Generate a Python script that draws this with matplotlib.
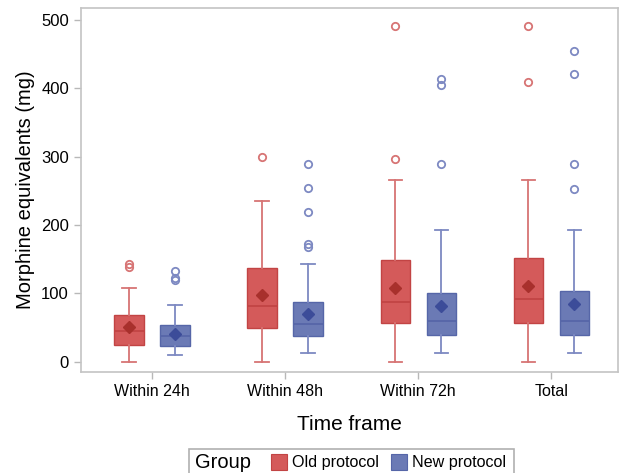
import matplotlib
matplotlib.use("Agg")
import matplotlib.pyplot as plt
from matplotlib.patches import Rectangle

plt.rcParams['font.family'] = ['Liberation Sans', 'DejaVu Sans']

# Datos de los boxplots
categories = ["Within 24h", "Within 48h", "Within 72h", "Total"]
groups = ["Old protocol", "New protocol"]

old_q1 = [25, 49, 57, 57]
old_med = [45, 81, 88, 92]
old_q3 = [68, 137, 149, 152]
old_lo = [0, 0, 0, 0]
old_hi = [108, 235, 266, 266]
old_mean = [51, 97, 108, 110]
old_fliers = [[138, 143], [300], [297, 491], [409, 491]]

new_q1 = [23, 38, 39, 39]
new_med = [38, 55, 59, 59]
new_q3 = [53, 87, 101, 103]
new_lo = [10, 13, 13, 13]
new_hi = [83, 143, 192, 192]
new_mean = [40, 70, 82, 85]
new_fliers = [[120, 123, 132], [167, 172, 219, 254, 289], [289, 404, 414], [252, 289, 420, 454]]

colors = {
    "Old protocol": dict(fill="#D45A5A", edge="#C24444", line="#D77474", mean="#A8302C"),
    "New protocol": dict(fill="#6B7AB5", edge="#5666A8", line="#7D89C2", mean="#3C4C99"),
}


def make_stats(q1, med, q3, lo, hi, mean, fliers):
    out = []
    for i in range(len(q1)):
        out.append(dict(q1=q1[i], med=med[i], q3=q3[i], whislo=lo[i], whishi=hi[i],
                        mean=mean[i], fliers=fliers[i]))
    return out


fig = plt.figure(figsize=(6.21, 4.73), dpi=100)
ax = fig.add_axes([0.130, 0.2135, 0.865, 0.7695])

offset = 0.173
series = [
    ("Old protocol", make_stats(old_q1, old_med, old_q3, old_lo, old_hi, old_mean, old_fliers), -offset),
    ("New protocol", make_stats(new_q1, new_med, new_q3, new_lo, new_hi, new_mean, new_fliers), offset),
]

for name, stats, off in series:
    c = colors[name]
    pos = [i + off for i in range(len(categories))]
    ax.bxp(stats, positions=pos, widths=0.22, patch_artist=True, showmeans=True,
           capwidths=0.1,
           boxprops=dict(facecolor=c["fill"], edgecolor=c["edge"], linewidth=1.0),
           medianprops=dict(color=c["edge"], linewidth=1.3),
           whiskerprops=dict(color=c["line"], linewidth=1.3),
           capprops=dict(color=c["line"], linewidth=1.3),
           meanprops=dict(marker="D", markerfacecolor=c["mean"], markeredgecolor=c["mean"],
                          markersize=6.5),
           flierprops=dict(marker="o", markerfacecolor="none", markeredgecolor=c["line"],
                           markersize=5.3, markeredgewidth=1.3))

ax.set_xlim(-0.535, 3.5)
ax.set_ylim(-15, 517)
ax.set_xticks(range(len(categories)))
ax.set_xticklabels(categories, fontsize=11.5)
ax.set_yticks([0, 100, 200, 300, 400, 500])
ax.tick_params(axis='y', labelsize=12)
ax.tick_params(color="#b8b8b8", length=5, width=1)
for spine in ax.spines.values():
    spine.set_color("#c4c4c4")
    spine.set_linewidth(1.2)

ax.set_ylabel("Morphine equivalents (mg)", fontsize=14.5, labelpad=4)
ax.set_xlabel("Time frame", fontsize=15, labelpad=12)

# Leyenda "Group" manual en la parte inferior
fig.patches.append(Rectangle((189 / 621, -0.02), 325 / 621, (473 - 449) / 473 + 0.02,
                             transform=fig.transFigure, facecolor="white",
                             edgecolor="#b0b0b0", linewidth=1.2))
ty = 1 - 462 / 473
fig.text(195 / 621, ty, "Group", fontsize=14.5, va="center", ha="left")
for name, x0 in zip(groups, [271, 391]):
    c = colors[name]
    fig.patches.append(Rectangle((x0 / 621, ty - 8 / 473), 16 / 621, 16 / 473,
                                 transform=fig.transFigure, facecolor=c["fill"],
                                 edgecolor=c["edge"], linewidth=0.8))
    fig.text((x0 + 21) / 621, ty, name, fontsize=11.6, va="center", ha="left")

fig.savefig("out.png", dpi=100)
